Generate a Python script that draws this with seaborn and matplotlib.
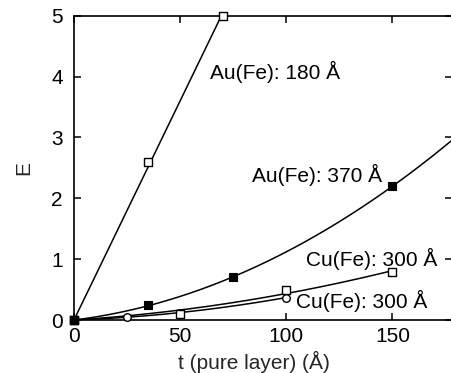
import numpy as np
import pandas as pd
import matplotlib
matplotlib.use("Agg")
import matplotlib.pyplot as plt
import seaborn as sns

# Measured E versus pure-layer thickness t for four samples
t_au180 = [0, 35, 70]
e_au180 = [0.0, 2.6, 5.0]

t_au370 = [0, 35, 75, 150]
e_au370 = [0.0, 0.25, 0.70, 2.20]

t_cu_sq = [0, 50, 100, 150]
e_cu_sq = [0.0, 0.10, 0.50, 0.79]

t_cu_circ = [0, 25, 50, 100]
e_cu_circ = [0.0, 0.05, 0.12, 0.37]

labels = ["Au(Fe): 180 Å", "Au(Fe): 370 Å", "Cu(Fe): 300 Å", "Cu(Fe): 300 Å"]
label_x = [64.0, 84.0, 109.5, 104.8]
label_y = [4.08, 2.39, 1.00, 0.31]

x_ticks = [0, 50, 100, 150]
y_ticks = [0, 1, 2, 3, 4, 5]

FS = 15

sns.set_theme(style="ticks")
plt.rcParams["font.family"] = ["Liberation Sans", "DejaVu Sans"]
plt.rcParams["font.size"] = FS

fig = plt.figure(figsize=(4.51, 3.73), dpi=100)
ax = fig.add_axes([0.164, 0.142, 0.838, 0.816])


def fit_curve(t, e, deg, t_end):
    """Least-squares polynomial through the origin, evaluated on a fine grid."""
    t = np.asarray(t, float)
    e = np.asarray(e, float)
    cols = np.vstack([t ** k for k in range(1, deg + 1)]).T
    coef, *_ = np.linalg.lstsq(cols, e, rcond=None)
    grid = np.linspace(0, t_end, 200)
    vals = sum(c * grid ** (k + 1) for k, c in enumerate(coef))
    return pd.DataFrame({"t": grid, "E": vals})


curves = [
    fit_curve(t_au180, e_au180, 1, 70),
    fit_curve(t_au370, e_au370, 2, 180),
    fit_curve(t_cu_sq, e_cu_sq, 2, 150),
    fit_curve(t_cu_circ, e_cu_circ, 2, 100),
]
for c in curves:
    sns.lineplot(data=c, x="t", y="E", color="black", linewidth=1.1, ax=ax,
                 sort=False, estimator=None)

# markers
sns.scatterplot(x=t_cu_circ, y=e_cu_circ, marker="o", s=30, facecolor="white",
                edgecolor="black", linewidth=1.0, ax=ax, zorder=3, clip_on=False)
sns.scatterplot(x=t_cu_sq, y=e_cu_sq, marker="s", s=34, facecolor="white",
                edgecolor="black", linewidth=1.0, ax=ax, zorder=3, clip_on=False)
sns.scatterplot(x=t_au180, y=e_au180, marker="s", s=38, facecolor="white",
                edgecolor="black", linewidth=1.0, ax=ax, zorder=3, clip_on=False)
sns.scatterplot(x=t_au370, y=e_au370, marker="s", s=30, facecolor="black",
                edgecolor="black", linewidth=0.8, ax=ax, zorder=4, clip_on=False)

for txt, x, y in zip(labels, label_x, label_y):
    ax.text(x, y, txt, ha="left", va="center", fontsize=FS, color="black")

ax.set_xlim(0, 178)
ax.set_ylim(0, 5)
ax.set_xticks(x_ticks)
ax.set_yticks(y_ticks)
ax.tick_params(direction="in", length=5, width=1.1, top=True, right=True,
               labelsize=FS, colors="black")
ax.tick_params(axis="y", pad=8)
ax.tick_params(axis="x", pad=5)
for s in ax.spines.values():
    s.set_linewidth(1.2)
    s.set_color("black")

ax.set_xlabel("t (pure layer) (Å)", fontsize=FS)
ax.set_ylabel("E", fontsize=FS)
ax.xaxis.set_label_coords(0.475, -0.1)
ax.yaxis.set_label_coords(-0.108, 0.5)

fig.savefig("out.png", dpi=100)
